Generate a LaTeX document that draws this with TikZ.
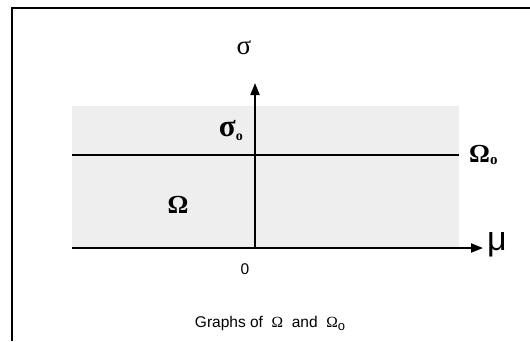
\documentclass[tikz,border=0pt]{standalone}
\usepackage{fontspec}
\setmainfont{Liberation Sans}
\newfontfamily\grk{Liberation Serif}
\usetikzlibrary{arrows.meta, positioning}
\definecolor{regiongray}{HTML}{EEEEEE}

\begin{document}
\begin{tikzpicture}[x=1pt, y=-1pt,
  rule/.style={line width=1.8pt},
  axis/.style={line width=1.8pt, -{Triangle[length=12pt, width=9pt]}},
  glabel/.style={font=\fontsize{27}{30}\selectfont\grk, inner sep=0pt},
  blabel/.style={font=\fontsize{26}{29}\selectfont\grk\bfseries, inner sep=0pt},
  plain/.style={font=\fontsize{15.5}{18}\selectfont, inner sep=0pt}]
  \useasboundingbox (0,0) rectangle (530,341);
  % frame
  \draw[line width=2pt] (12,341) -- (12,8) -- (530,8);
  % region Omega
  \fill[regiongray] (72,106) rectangle (459,248);
  \coordinate (west) at (72,248);
  \coordinate (east) at (483,248);
  \coordinate (orig) at (255,248);
  \coordinate (top) at (255,83);
  \coordinate (lw) at (72,155);
  \coordinate (le) at (459,155);
  \draw[rule] (lw) -- (le);
  \draw[axis] (orig) -- (top);
  \draw[axis] (west) -- (east);
  % labels
  \node[glabel, anchor=base] (sig) at (244,54) {σ};
  \node[blabel, font=\fontsize{31}{34}\selectfont\grk\bfseries, anchor=base east] (sigo) at (243,136) {σ\raisebox{-0.3ex}{\fontsize{14}{14}\selectfont o}};
  \node[blabel, anchor=base west] (omo) at (469,162) {Ω\raisebox{-0.2ex}{\fontsize{15}{15}\selectfont o}};
  \node[blabel, anchor=base] (om) at (178,213) {Ω};
  \node[font=\fontsize{34}{38}\selectfont, inner sep=0pt, anchor=base west] (mu) at (487,250) {μ};
  \node[plain, anchor=base] (zero) at (245,274) {0};
  \node[plain, anchor=base] (cap) at (270,327) {Graphs of \ {\grk Ω} \ and \ {\grk Ω}\raisebox{-0.4ex}{\fontsize{13}{13}\selectfont o}};
\end{tikzpicture}
\end{document}
